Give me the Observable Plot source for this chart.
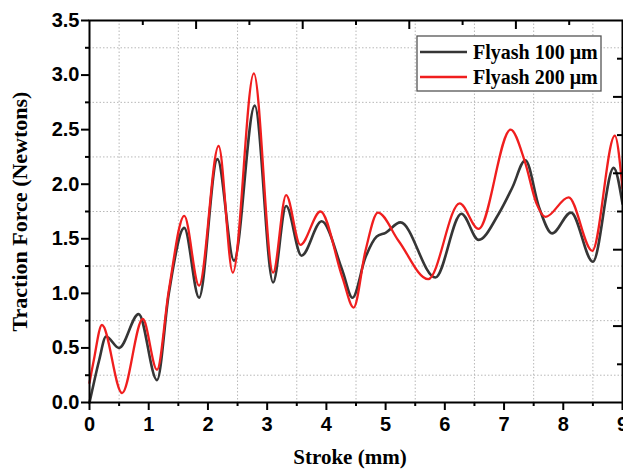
<!DOCTYPE html>
<html>
<head>
<meta charset="utf-8">
<script src="https://cdn.jsdelivr.net/npm/d3@7"></script>
<script src="https://cdn.jsdelivr.net/npm/@observablehq/plot@0.6"></script>
<style>
  html, body { margin: 0; padding: 0; background: #fff; overflow: hidden; width: 623px; height: 469px; }
  #chart svg { overflow: hidden; display: block; }
</style>
</head>
<body>
<div id="chart"></div>
<script>
// Flyash 100 µm (dark grey curve)
const stroke100 = [0, 0.045, 0.16, 0.28, 0.5, 0.83, 1.14, 1.34, 1.60, 1.85, 2.16, 2.44, 2.79, 3.10, 3.32, 3.58, 3.92, 4.27, 4.44, 4.66, 4.85, 5.0, 5.25, 5.84, 6.28, 6.57, 6.9, 7.14, 7.36, 7.59, 7.81, 8.13, 8.50, 8.85, 9.0];
const force100  = [0, 0.11, 0.38, 0.605, 0.50, 0.81, 0.205, 1.0, 1.60, 0.96, 2.23, 1.30, 2.72, 1.10, 1.80, 1.345, 1.66, 1.21, 0.96, 1.33, 1.52, 1.555, 1.65, 1.145, 1.73, 1.49, 1.72, 1.97, 2.22, 1.79, 1.55, 1.74, 1.29, 2.15, 1.82];
// Flyash 200 µm (red curve)
const stroke200 = [0, 0.07, 0.21, 0.55, 0.90, 1.14, 1.34, 1.60, 1.85, 2.18, 2.42, 2.775, 3.10, 3.32, 3.56, 3.90, 4.27, 4.46, 4.66, 4.87, 5.22, 5.72, 6.25, 6.57, 7.11, 7.35, 7.55, 7.70, 8.09, 8.49, 8.87, 9.0];
const force200  = [0.18, 0.38, 0.71, 0.086, 0.765, 0.30, 1.03, 1.71, 1.07, 2.35, 1.19, 3.015, 1.19, 1.90, 1.445, 1.75, 1.146, 0.87, 1.39, 1.74, 1.48, 1.13, 1.825, 1.59, 2.50, 2.21, 1.82, 1.70, 1.88, 1.39, 2.445, 1.96];

const seriesNames = ["Flyash 100 \u03bcm", "Flyash 200 \u03bcm"];
const seriesColors = ["#363636", "#f01e1e"];

const xTicks = [0, 1, 2, 3, 4, 5, 6, 7, 8, 9];
const xMinor = [0.5, 1.5, 2.5, 3.5, 4.5, 5.5, 6.5, 7.5, 8.5];
const yTicks = [0, 0.5, 1.0, 1.5, 2.0, 2.5, 3.0, 3.5];
const yMinor = [0.25, 0.75, 1.25, 1.75, 2.25, 2.75, 3.25];
const topLong = [1.8, 3.6, 5.4, 7.2];
const topShort = [0.9, 2.7, 4.5, 6.3, 8.1];
const rightLong = [0.7, 1.4, 2.1, 2.8];
const rightShort = [0.35, 1.05, 1.75, 2.45, 3.15];

const rows = [
  ...stroke100.map((x, i) => ({x, y: force100[i], s: seriesNames[0]})),
  ...stroke200.map((x, i) => ({x, y: force200[i], s: seriesNames[1]}))
];

const W = 623, H = 469, mL = 89, mR = 1, mT = 20, mB = 67;
const innerW = W - mL - mR, innerH = H - mT - mB;
const serif = "'Liberation Serif', 'Times New Roman', serif";

const plot = Plot.plot({
  width: W, height: H,
  marginLeft: mL, marginRight: mR, marginTop: mT, marginBottom: mB,
  style: {fontFamily: "'Liberation Sans', Arial, sans-serif", fontWeight: "bold", fontSize: "20px", color: "#000", background: "#fff"},
  x: {domain: [0, 9]},
  y: {domain: [0, 3.5]},
  marks: [
    Plot.gridX(xMinor, {stroke: "#b8b8b8", strokeOpacity: 1, strokeDasharray: "1.5,2", strokeWidth: 1}),
    Plot.gridY(yMinor, {stroke: "#b8b8b8", strokeOpacity: 1, strokeDasharray: "1.5,2", strokeWidth: 1}),
    Plot.line(rows.filter(d => d.s === seriesNames[0]), {x: "x", y: "y", stroke: seriesColors[0], strokeWidth: 2.6, curve: "monotone-x"}),
    Plot.line(rows.filter(d => d.s === seriesNames[1]), {x: "x", y: "y", stroke: seriesColors[1], strokeWidth: 2.3, curve: "monotone-x"}),
    // bottom axis
    Plot.axisX(xTicks, {anchor: "bottom", tickSize: 8, tickPadding: 6, strokeWidth: 2, tickFormat: d3.format("d"), fontSize: 20, fontWeight: "bold", label: null}),
    Plot.axisX(xMinor, {anchor: "bottom", tickSize: 4, strokeWidth: 2, tickFormat: () => "", label: null}),
    // left axis
    Plot.axisY(yTicks, {anchor: "left", tickSize: 8, tickPadding: 2, strokeWidth: 2, tickFormat: d3.format(".1f"), fontSize: 20, fontWeight: "bold", label: null}),
    Plot.axisY(yMinor, {anchor: "left", tickSize: 4, strokeWidth: 2, tickFormat: () => "", label: null}),
    // top inward ticks
    Plot.tickX(topLong, {x: d => d, insetBottom: innerH - 9, stroke: "#000", strokeWidth: 2}),
    Plot.tickX(topShort, {x: d => d, insetBottom: innerH - 5, stroke: "#000", strokeWidth: 2}),
    // right inward ticks
    Plot.tickY(rightLong, {y: d => d, insetLeft: innerW - 9, stroke: "#000", strokeWidth: 2}),
    Plot.tickY(rightShort, {y: d => d, insetLeft: innerW - 5, stroke: "#000", strokeWidth: 2}),
    Plot.frame({stroke: "#000", strokeWidth: 2}),
    // axis titles
    Plot.text(["Traction Force (Newtons)"], {frameAnchor: "left", textAnchor: "middle", lineAnchor: "middle", dx: -70, rotate: -90, fontFamily: serif, fontWeight: "bold", fontSize: 22, fill: "#000"}),
    Plot.text(["Stroke (mm)"], {frameAnchor: "bottom", textAnchor: "middle", lineAnchor: "middle", dy: 55, dx: -6, fontFamily: serif, fontWeight: "bold", fontSize: 21, fill: "#000"})
  ]
});

// legend inside the plot (top right)
const svg = d3.select(plot);
const lg = svg.append("g").attr("transform", "translate(417,36)");
lg.append("rect").attr("x", 0).attr("y", 0).attr("width", 184).attr("height", 55)
  .attr("fill", "#fff").attr("stroke", "#555").attr("stroke-width", 1.3);
seriesNames.forEach((name, i) => {
  const yy = 16 + i * 25;
  lg.append("line").attr("x1", 3).attr("x2", 50).attr("y1", yy).attr("y2", yy)
    .attr("stroke", seriesColors[i]).attr("stroke-width", i === 0 ? 2.6 : 2.3);
  lg.append("text").attr("x", 56).attr("y", yy + 6.5).text(name)
    .attr("text-anchor", "start")
    .attr("font-family", serif)
    .attr("font-weight", "bold").attr("font-size", 20).attr("fill", "#000");
});

document.getElementById("chart").appendChild(plot);
</script>
</body>
</html>
